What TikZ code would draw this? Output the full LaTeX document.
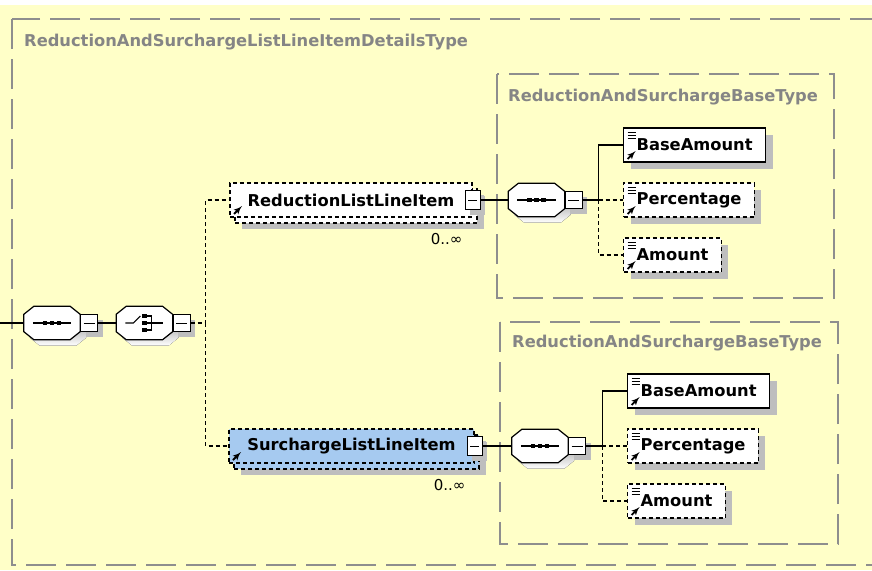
\documentclass[tikz,border=0pt]{standalone}
\usepackage{fontspec}
\setmainfont{DejaVu Sans}
\usepackage{tikz}
\usetikzlibrary{calc}
\usetikzlibrary{arrows,positioning,shadows}
\newcommand{\xsdfont}{\bfseries\fontsize{16.3}{19}\selectfont}
\newcommand{\occfont}{\fontsize{15}{18}\selectfont}
\newcommand{\octpath}[1]{([xshift=10pt]#1.north west) -- ([xshift=-10pt]#1.north east) -- ([yshift=-8pt]#1.north east) -- ([yshift=8pt]#1.south east) -- ([xshift=-10pt]#1.south east) -- ([xshift=10pt]#1.south west) -- ([yshift=8pt]#1.south west) -- ([yshift=-8pt]#1.north west) -- cycle}
\tikzstyle{typebox} = [draw=typegray, line width=1.6pt, dash pattern=on 30pt off 10pt]
\tikzstyle{typetitle} = [anchor=west, inner sep=0pt, text=titlegray, font=\xsdfont]
\tikzstyle{box} = [rectangle, minimum height=34pt, inner xsep=13pt, inner ysep=0pt, draw=black, line width=1.2pt, font=\xsdfont]
\tikzstyle{elem} = [box, fill=white, drop shadow={shadow xshift=7pt, shadow yshift=-7pt, fill=shade, opacity=1},
  path picture={
    \foreach \d in {4,7,10} \draw[solid, line width=0.9pt] ([shift={(4pt,-\d pt)}]path picture bounding box.north west) -- ++(8pt,0pt);
    \draw[solid, line width=1.9pt,-latex'] ([shift={(4pt,3pt)}]path picture bounding box.south west) -- ++(8pt,8pt);}]
\tikzstyle{optelem} = [elem, dash pattern=on 4pt off 3pt]
\tikzset{manyelem/.style={box, fill=#1, dash pattern=on 4pt off 3pt,
  drop shadow={shadow xshift=12pt, shadow yshift=-12pt, fill=shade, opacity=1},
  preaction={draw=black, fill=#1, line width=1.2pt, dash pattern=on 4pt off 3pt, transform canvas={shift={(5pt,-6pt)}}},
  path picture={
    \draw[solid, line width=1.9pt,-latex'] ([shift={(4pt,3pt)}]path picture bounding box.south west) -- ++(8pt,8pt);}},
  manyelem/.default=white}
\tikzstyle{collapse} = [rectangle, draw=black, line width=1pt, fill=white, minimum width=17pt, minimum height=17pt, inner sep=0pt,
  drop shadow={shadow xshift=5pt, shadow yshift=-5pt, fill=shade, opacity=1},
  path picture={\draw[line width=1pt] ([xshift=3pt]path picture bounding box.west) -- ([xshift=-3pt]path picture bounding box.east);}]
\tikzstyle{compositor} = [rectangle, minimum width=56pt, minimum height=33pt, inner sep=0pt,
  append after command={\pgfextra{
    \fill[shade, transform canvas={shift={(6pt,-6pt)}}] \octpath{\tikzlastnode};
    \filldraw[fill=white, draw=black, line width=1.2pt] \octpath{\tikzlastnode};}}]
\tikzstyle{seqbox} = [compositor,
  append after command={\pgfextra{
    \draw[line width=1.1pt] ([xshift=9pt]\tikzlastnode.west) -- ([xshift=-9pt]\tikzlastnode.east);
    \foreach \d in {-7,0,7} \fill ([xshift=\d pt]\tikzlastnode.center) +(-2.3pt,-2.3pt) rectangle +(2.3pt,2.3pt);}}]
\tikzstyle{choicebox} = [compositor,
  append after command={\pgfextra{
    \draw[line width=1.1pt] ([xshift=-19pt]\tikzlastnode.center) -- ([xshift=-11pt]\tikzlastnode.center) -- ([shift={(-4pt,7pt)}]\tikzlastnode.center);
    \foreach \d in {-7,0,7} \fill ([yshift=\d pt]\tikzlastnode.center) +(-2.2pt,-2.2pt) rectangle +(2.2pt,2.2pt);
    \draw[line width=1.1pt] ([shift={(2pt,7pt)}]\tikzlastnode.center) -- ([shift={(7pt,7pt)}]\tikzlastnode.center) -- ([shift={(7pt,-7pt)}]\tikzlastnode.center) -- ([shift={(2pt,-7pt)}]\tikzlastnode.center);
    \draw[line width=1.1pt] ([xshift=2pt]\tikzlastnode.center) -- ([xshift=19pt]\tikzlastnode.center);}}]
\tikzstyle{occ} = [inner sep=0pt, font=\occfont]
\tikzstyle{line} = [draw, line width=1.3pt, color=black]
\tikzstyle{optline} = [line, dash pattern=on 4pt off 3pt]
\definecolor{paper}{HTML}{FFFFC8}
\definecolor{typegray}{HTML}{8E8E8E}
\definecolor{titlegray}{HTML}{858585}
\definecolor{shade}{HTML}{BEBEBE}
\definecolor{surblue}{HTML}{A6CAF0}

\begin{document}
\begin{tikzpicture}[x=1pt,y=-1pt,node distance=55pt]
  \useasboundingbox (0,0) rectangle (872,570);
  \clip (0,0) rectangle (872,570);
  \fill [white] (0,0) rectangle (872,570);
  \fill [paper] (0,5) rectangle (872,570);
  \draw [typebox] (12,19) rectangle (900,565);
  \node (maintitle) [typetitle] at (24,42) {ReductionAndSurchargeListLineItemDetailsType};
  \draw [typebox] (497,74) rectangle (834,298);
  \node (basetitle1) [typetitle] at (508,97) {ReductionAndSurchargeBaseType};
  \draw [typebox] (500,322) rectangle (838,544);
  \node (basetitle2) [typetitle] at (512,343) {ReductionAndSurchargeBaseType};

  \coordinate (in) at (0,323);
  \node (seq) [seqbox] at (52,323) {};
  \node (seqm) [collapse, right=0pt of seq] {};
  \draw [line] (in) -- (seq);
  \node (choice) [choicebox, right=18pt of seqm] {};
  \node (choicem) [collapse, right=0pt of choice] {};
  \draw [line] (seqm) -- (choice);
  \coordinate [right=15pt of choicem] (split);

  \node (red) [manyelem, minimum width=242pt] at (351,200) {ReductionListLineItem};
  \node (redm) [collapse, minimum width=15pt, minimum height=19pt] at (red.east) {};
  \node (redocc) [occ, below left=16pt and 10pt of red.south east] {0..∞};
  \draw [optline] (choicem) -- (split) |- (red);
  \node (sur) [manyelem=surblue, minimum width=245pt] at (351.5,446) {SurchargeListLineItem};
  \node (surm) [collapse, minimum width=15pt, minimum height=19pt] at (sur.east) {};
  \node (surocc) [occ, below left=16pt and 9pt of sur.south east] {0..∞};
  \draw [optline] (split) |- (sur);

  \node (seqB) [seqbox] at (536.5,200) {};
  \node (seqBm) [collapse, right=0pt of seqB] {};
  \draw [line] (redm) -- (seqB);
  \coordinate [right=16pt of seqBm] (splitB);
  \node (base1) [elem, anchor=west] at (623,145) {BaseAmount};
  \node (pct1) [optelem, below=55pt of base1.west, anchor=west] {Percentage};
  \node (amt1) [optelem, below=55pt of pct1.west, anchor=west] {Amount};
  \draw [line] (seqBm) -- (splitB) |- (base1);
  \draw [optline] (splitB) -- (pct1);
  \draw [optline] (splitB) |- (amt1);

  \node (seqC) [seqbox] at (540,446) {};
  \node (seqCm) [collapse, right=0pt of seqC] {};
  \draw [line] (surm) -- (seqC);
  \coordinate [right=16pt of seqCm] (splitC);
  \node (base2) [elem, anchor=west] at (627,391) {BaseAmount};
  \node (pct2) [optelem, below=55pt of base2.west, anchor=west] {Percentage};
  \node (amt2) [optelem, below=55pt of pct2.west, anchor=west] {Amount};
  \draw [line] (seqCm) -- (splitC) |- (base2);
  \draw [optline] (splitC) -- (pct2);
  \draw [optline] (splitC) |- (amt2);

\end{tikzpicture}
\end{document}
